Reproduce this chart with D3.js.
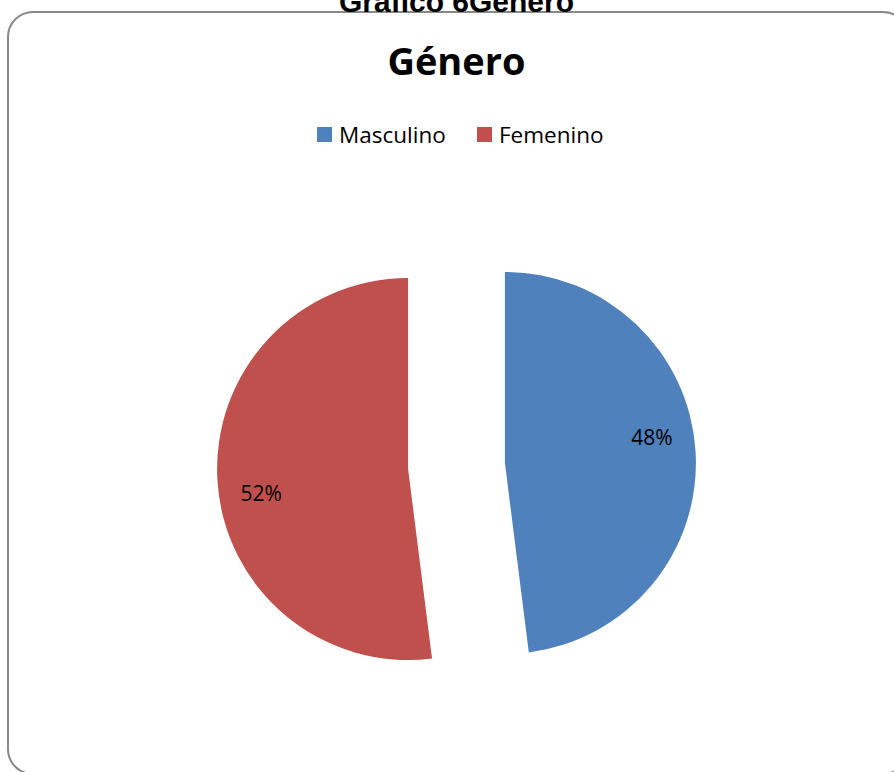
<!DOCTYPE html>
<html>
<head>
<meta charset="utf-8">
<script src="https://cdn.jsdelivr.net/npm/d3@7"></script>
<style>
  body { margin: 0; background: #fff; }
  svg { display: block; }
</style>
</head>
<body>
<div id="container"></div>
<script>
  // data
  const categories = ['Masculino', 'Femenino']
  const values = [48, 52]
  const colors = ['#4f81bd', '#c0504d']
  const title = 'Género'
  const caption = 'Gráfico 6Género'

  const width = 894
  const height = 772
  const cx = 456.5
  const cy = 466
  const radius = 191
  const explode = 48.5

  const svg = d3.select('#container')
    .append('svg')
    .attr('width', width)
    .attr('height', height)

  // frame of the chart area (runs past the page on right and bottom)
  svg.append('rect')
    .attr('x', 8)
    .attr('y', 12)
    .attr('width', 900)
    .attr('height', 762)
    .attr('rx', 25)
    .attr('fill', '#fff')
    .attr('stroke', '#898989')
    .attr('stroke-width', 2)

  // caption from the document, mostly cut off at the top
  svg.append('text')
    .attr('x', cx)
    .attr('y', 12)
    .attr('text-anchor', 'middle')
    .style('font-family', 'Liberation Sans, Arial, sans-serif')
    .style('font-weight', 'bold')
    .style('font-size', '30px')
    .text(caption)

  svg.append('text')
    .attr('x', cx)
    .attr('y', 75)
    .attr('text-anchor', 'middle')
    .style('font-family', 'Open Sans, sans-serif')
    .style('font-weight', 'bold')
    .style('font-size', '38px')
    .text(title)

  // legend
  const legend = svg.append('g')
    .attr('transform', 'translate(317, 127)')

  const legendX = d3.scaleOrdinal()
    .domain(categories)
    .range([0, 160])

  const items = legend.selectAll('g')
    .data(categories)
    .enter()
    .append('g')
    .attr('transform', (c) => `translate(${legendX(c)}, 0)`)

  items.append('rect')
    .attr('width', 15)
    .attr('height', 15)
    .attr('fill', (c, i) => colors[i])

  items.append('text')
    .attr('x', 22)
    .attr('y', 16)
    .style('font-family', 'Open Sans, sans-serif')
    .style('font-size', '22.5px')
    .text((c) => c)

  // pie
  const pie = d3.pie().sort(null).value((d) => d.value)
  const arcs = pie(categories.map((c, i) => ({ name: c, value: values[i], color: colors[i] })))
  const total = d3.sum(values)

  const arc = d3.arc().innerRadius(0).outerRadius(radius)
  const labelArc = d3.arc().innerRadius(149).outerRadius(149)
  const labelShift = -6 * Math.PI / 180

  const offset = (d) => {
    const mid = (d.startAngle + d.endAngle) / 2
    return [Math.sin(mid) * explode, -Math.cos(mid) * explode]
  }

  const slices = svg.append('g')
    .attr('transform', `translate(${cx}, ${cy})`)
    .selectAll('g')
    .data(arcs)
    .enter()
    .append('g')
    .attr('transform', (d) => `translate(${offset(d)})`)

  slices.append('path')
    .attr('d', arc)
    .attr('fill', (d) => d.data.color)

  slices.append('text')
    .attr('transform', (d) => `translate(${labelArc.centroid({
      startAngle: d.startAngle + labelShift,
      endAngle: d.endAngle + labelShift
    })})`)
    .attr('text-anchor', 'middle')
    .attr('dy', '0.35em')
    .style('font-family', 'Open Sans, sans-serif')
    .style('font-size', '21px')
    .text((d) => d3.format('.0%')(d.data.value / total))
</script>
</body>
</html>
